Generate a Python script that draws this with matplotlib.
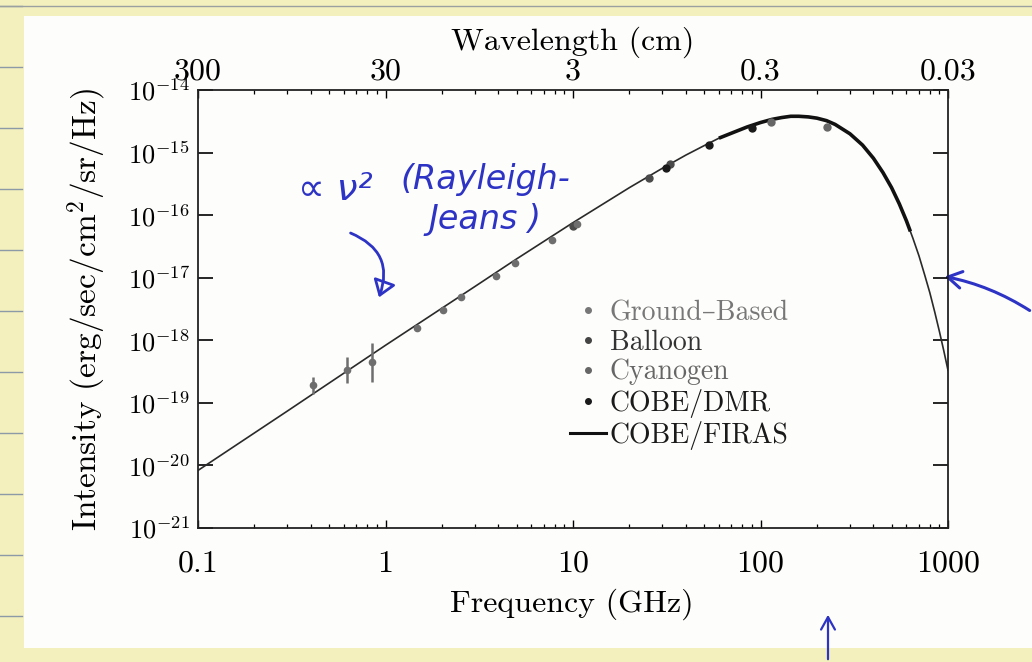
import numpy as np
import matplotlib
matplotlib.use('Agg')
import matplotlib.pyplot as plt
from matplotlib.lines import Line2D
from matplotlib.patches import Rectangle, FancyArrowPatch
from matplotlib.ticker import NullLocator, FuncFormatter

plt.rcParams['font.family'] = ['cmr10', 'DejaVu Serif']
plt.rcParams['mathtext.fontset'] = 'cm'
plt.rcParams['axes.formatter.use_mathtext'] = True
plt.rcParams['axes.unicode_minus'] = False

#blackbody curve: frequency (GHz), log10 intensity
nu_curve = [0.1, 0.3, 1, 3, 5, 10, 20, 30, 40, 50, 60, 70, 85, 100, 115, 130, 145, 160, 180,
            200, 225, 250, 300, 350, 400, 450, 500, 550, 600, 650, 700, 750, 800, 850, 900, 950, 1000]
logI_curve = [-20.08, -19.13, -18.08, -17.14, -16.70, -16.12, -15.56, -15.25, -15.04, -14.89, -14.77,
              -14.69, -14.59, -14.52, -14.47, -14.44, -14.42, -14.42, -14.43, -14.45, -14.49, -14.55,
              -14.70, -14.88, -15.09, -15.32, -15.56, -15.82, -16.09, -16.37, -16.65, -16.95, -17.24,
              -17.55, -17.86, -18.17, -18.48]

#COBE/FIRAS band (thick part of the curve)
nu_firas = [60, 70, 85, 100, 115, 130, 145, 160, 180, 200, 225, 250, 300, 350, 400, 450, 500, 550, 600, 630]
logI_firas = [-14.77, -14.69, -14.59, -14.52, -14.47, -14.44, -14.42, -14.42, -14.43, -14.45, -14.49,
              -14.55, -14.70, -14.88, -15.09, -15.32, -15.56, -15.82, -16.09, -16.26]

#measurements
ground_nu = [0.41, 0.62, 0.85, 1.47, 2.03, 2.53, 3.9, 4.9, 7.7, 10.5]
ground_logI = [-18.72, -18.48, -18.35, -17.81, -17.52, -17.31, -16.98, -16.77, -16.40, -16.14]
ground_err = [0.14, 0.21, 0.31, 0.03, 0.03, 0.03, 0.03, 0.03, 0.03, 0.03]  #dex
balloon_nu = [10.0, 25.4, 33.0]
balloon_logI = [-16.17, -15.41, -15.19]
cn_nu = [113.6, 227.0]
cn_logI = [-14.51, -14.59]
dmr_nu = [31.5, 53.0, 90.0]
dmr_logI = [-15.24, -14.88, -14.60]

xticks = [0.1, 1, 10, 100, 1000]
wl_ticks = [300, 30, 3, 0.3, 0.03]
wl_labels = ['300', '30', '3', '0.3', '0.03']

W, H = 1032, 662
fig = plt.figure(figsize=(W/100, H/100), dpi=100)
fig.patch.set_facecolor('#f3f0bd')
#paper photographed on a notebook page
fig.add_artist(Rectangle((24/W, 14/H), 1, 1 - 30/H, transform=fig.transFigure,
                         facecolor='#fdfdfb', edgecolor='none', zorder=-10))
for yy in range(6, 662, 61):
    fig.add_artist(Line2D([0, 22/W], [1 - yy/H]*2, color='#8c9aa8', lw=1, transform=fig.transFigure,
                          zorder=-5))
fig.add_artist(Line2D([0, 1], [1 - 6/H]*2, color='#9aa0a0', lw=1, transform=fig.transFigure, zorder=-5))

ax = fig.add_axes([198/W, 1 - 528/H, 750/W, 438/H])
ax.set_facecolor('none')
ax.set_zorder(1)

def to_lin(v):
    return 10**np.asarray(v, dtype=float)

ax.plot(nu_curve, to_lin(logI_curve), color='#2a2a2a', lw=1.2, zorder=2)
ax.plot(nu_firas, to_lin(logI_firas), color='#111111', lw=2.6, zorder=3, solid_capstyle='butt')

gI = to_lin(ground_logI)
gE = np.asarray(ground_err)
yerr = [gI - gI*10**(-gE), gI*10**gE - gI]
ax.errorbar(ground_nu, gI, yerr=yerr, fmt='o', ms=4.5, color='#6e6e6e', ecolor='#6e6e6e',
            elinewidth=1.8, capsize=0, zorder=4)
ax.plot(balloon_nu, to_lin(balloon_logI), 'o', ms=5, color='#4a4a4a', zorder=4)
ax.plot(cn_nu, to_lin(cn_logI), 'o', ms=5, color='#666666', zorder=4)
ax.plot(dmr_nu, to_lin(dmr_logI), 'o', ms=5, color='#1a1a1a', zorder=5)

ax.set_xscale('log')
ax.set_yscale('log')
ax.set_xlim(0.1, 1000)
ax.set_ylim(1e-21, 1e-14)
ax.set_xticks(xticks)
ax.xaxis.set_major_formatter(FuncFormatter(lambda v, p: '%g' % v))
ax.yaxis.set_minor_locator(NullLocator())
for s in ax.spines.values():
    s.set_linewidth(1.3)
    s.set_color('#222222')
ax.tick_params(axis='x', which='major', direction='in', top=True, length=5.5, width=1,
               labelsize=23, pad=16)
ax.tick_params(axis='x', which='minor', direction='in', top=True, length=3, width=0.9)
ax.tick_params(axis='y', which='major', direction='in', right=True, length=11, width=1.2,
               labelsize=19, pad=6)

ax.set_xlabel('Frequency (GHz)', fontsize=23)
ax.xaxis.set_label_coords(0.499, -0.137)
ax.set_ylabel('Intensity (erg/sec/cm$^2$/sr/Hz)', fontsize=24)
ax.yaxis.set_label_coords(-0.119, 0.5)

sec = ax.secondary_xaxis('top', functions=(lambda x: 30/x, lambda x: 30/x))
sec.set_xticks(wl_ticks)
sec.set_xticklabels(wl_labels)
sec.xaxis.set_minor_locator(NullLocator())
sec.tick_params(axis='x', length=0, labelsize=23, pad=3)
sec.spines['top'].set_visible(False)
sec.set_xlabel('Wavelength (cm)', fontsize=23, labelpad=6)

handles = [Line2D([], [], ls='none', marker='o', ms=4, color='#777777'),
           Line2D([], [], ls='none', marker='o', ms=4, color='#444444'),
           Line2D([], [], ls='none', marker='o', ms=4, color='#666666'),
           Line2D([], [], ls='none', marker='o', ms=4, color='#1a1a1a'),
           Line2D([], [], color='#111111', lw=2.2)]
labels = ['Ground\u2013Based', 'Balloon', 'Cyanogen', 'COBE/DMR', 'COBE/FIRAS']
leg = ax.legend(handles, labels, loc='upper left', bbox_to_anchor=(0.477, 0.553), frameon=False,
                fontsize=20, handlelength=1.3, handletextpad=0.15, labelspacing=0.12, borderpad=0)
for t, c in zip(leg.get_texts(), ['#777777', '#333333', '#666666', '#1a1a1a', '#1a1a1a']):
    t.set_color(c)

#handwritten notes in blue ink
ink = '#2d33c4'
fig.text(335/W, 1 - 190/H, '\u221d \u03bd\u00b2', color=ink, fontsize=27, family='DejaVu Sans',
         ha='center', va='center', style='italic')
fig.text(485/W, 1 - 180/H, '(Rayleigh-', color=ink, fontsize=24, family='DejaVu Sans',
         ha='center', va='center', style='italic')
fig.text(485/W, 1 - 220/H, 'Jeans )', color=ink, fontsize=24, family='DejaVu Sans',
         ha='center', va='center', style='italic')
fig.add_artist(FancyArrowPatch((348, H - 232), (378, H - 300), transform=None,
                               connectionstyle='arc3,rad=-0.5', arrowstyle='-|>,head_length=10,head_width=7',
                               color=ink, lw=2, fill=False))
fig.add_artist(FancyArrowPatch((1032, H - 312), (942, H - 276), transform=None,
                               connectionstyle='arc3,rad=0.1', arrowstyle='->,head_length=10,head_width=6',
                               color=ink, lw=2.2))
fig.add_artist(FancyArrowPatch((828, 0), (828, H - 612), transform=None,
                               arrowstyle='->,head_length=9,head_width=5', color=ink, lw=1.6))

fig.savefig('out.png', dpi=100, facecolor=fig.get_facecolor())
